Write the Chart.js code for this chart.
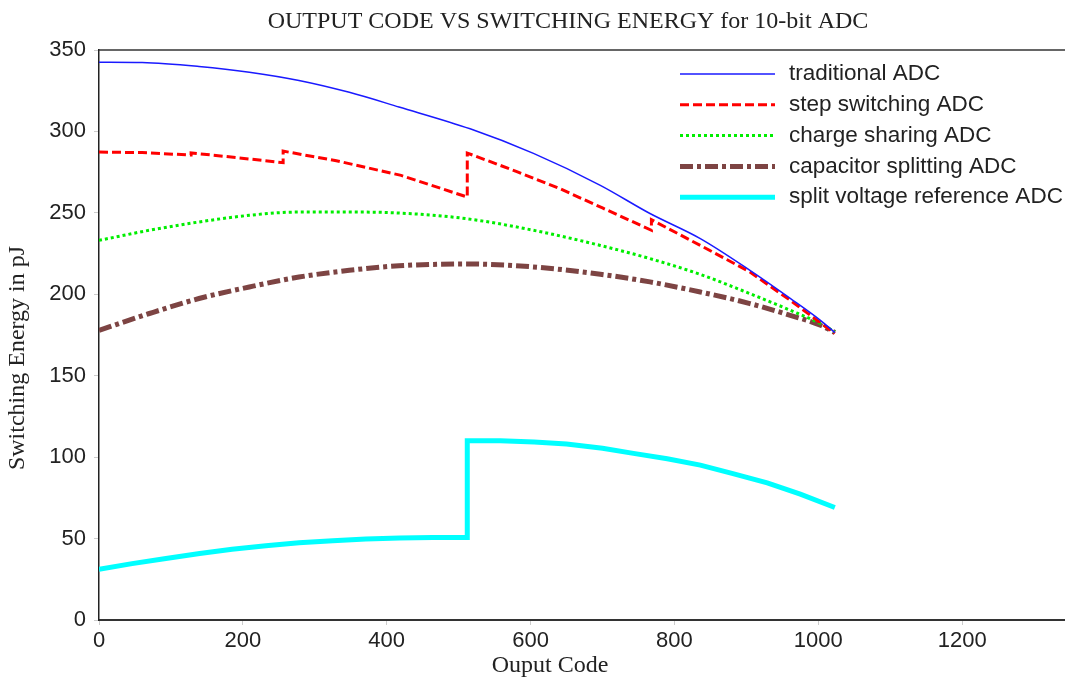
<!DOCTYPE html>
<html>
<head>
<meta charset="utf-8">
<script src="https://cdn.jsdelivr.net/npm/chart.js@4"></script>
<style>
  html, body { margin: 0; padding: 0; background: #fff; }
  #wrap { width: 1065px; height: 679px; }
</style>
</head>
<body>
<div id="wrap"><canvas id="chart"></canvas></div>
<script>
// values
const tradCodes = [0, 60, 139, 209, 278, 348, 417, 516, 604, 697, 766, 836, 905, 961, 1003, 1023];
const tradVals  = [342.5, 342.3, 339.9, 336.4, 331.3, 324, 315, 301.6, 286.5, 266.9, 249.6, 234.2, 214.7, 197.5, 184, 176.5];

const stepCodes = [0, 60, 128, 128, 190, 256, 256, 330, 420, 512, 512, 580, 641, 700, 768, 768, 836, 905, 961, 1023];
const stepVals  = [287.3, 287, 285.5, 286.8, 284, 280.8, 287.9, 282, 273, 259.7, 286.7, 275.5, 264.8, 253, 239.3, 245.8, 230, 213.7, 196.3, 176];

const shareCodes = [0, 70, 139, 209, 278, 348, 417, 511, 604, 697, 766, 836, 905, 961, 1003, 1023];
const shareVals  = [233.1, 239.3, 244.4, 248.5, 250.5, 250.5, 249.9, 246.4, 239.3, 230, 221.9, 212.2, 200.4, 190.2, 182, 177];

const splitCodes = [0, 70, 139, 209, 278, 348, 417, 511, 604, 697, 766, 836, 905, 961, 1003, 1023];
const splitVals  = [177.9, 188.2, 197.4, 204.5, 210.6, 214.7, 217.5, 218.6, 216.8, 212.3, 207.6, 201.4, 194.3, 187.1, 181, 176.5];

const vrefCodes = [0, 46, 93, 140, 185, 232, 278, 325, 371, 418, 464, 512, 512, 558, 605, 650, 700, 743, 790, 836, 880, 929, 975, 1023];
const vrefVals  = [31.1, 34.6, 37.8, 40.8, 43.4, 45.6, 47.4, 48.7, 49.7, 50.3, 50.7, 50.7, 110, 110, 109.3, 108, 105.5, 102.3, 99, 95.1, 90, 84.2, 77.3, 69.1];

const seriesNames = ["traditional ADC", "step switching ADC", "charge sharing ADC", "capacitor splitting ADC", "split voltage reference ADC"];
const xTickValues = [0, 200, 400, 600, 800, 1000, 1200];

function pts(xs, ys) {
  return xs.map((x, i) => ({ x: x, y: ys[i] }));
}

// frame line, titles and the legend inside the plot
const extras = {
  id: "extras",
  afterDraw(chart) {
    const ctx = chart.ctx;
    const a = chart.chartArea;
    ctx.save();
    ctx.strokeStyle = "#333";
    ctx.lineWidth = 1.5;
    ctx.beginPath();
    ctx.moveTo(a.left, a.top);
    ctx.lineTo(a.right, a.top);
    ctx.stroke();

    ctx.fillStyle = "#222";
    ctx.textAlign = "center";
    ctx.textBaseline = "middle";
    ctx.font = "24px 'Liberation Serif'";
    ctx.fillText("OUTPUT CODE VS SWITCHING ENERGY for 10-bit ADC", 568, 22);
    ctx.fillText("Ouput Code", 550, 666);

    ctx.save();
    ctx.translate(18, 358);
    ctx.rotate(-Math.PI / 2);
    ctx.fillText("Switching Energy in pJ", 0, 0);
    ctx.restore();

    ctx.textAlign = "left";
    ctx.font = "22.5px 'Liberation Sans'";
    chart.data.datasets.forEach((ds, i) => {
      const y = 74 + i * 30.8;
      ctx.strokeStyle = ds.borderColor;
      ctx.lineWidth = ds.borderWidth;
      ctx.setLineDash(ds.borderDash || []);
      ctx.beginPath();
      ctx.moveTo(680, y);
      ctx.lineTo(775, y);
      ctx.stroke();
      ctx.setLineDash([]);
      ctx.fillStyle = "#222";
      ctx.fillText(ds.label, 789, y);
    });
    ctx.restore();
  }
};

new Chart(document.getElementById("chart"), {
  type: "line",
  data: {
    datasets: [
      {
        label: seriesNames[0],
        data: pts(tradCodes, tradVals),
        borderColor: "#1a1aff",
        borderWidth: 1.5,
        cubicInterpolationMode: "monotone",
      },
      {
        label: seriesNames[1],
        data: pts(stepCodes, stepVals),
        borderColor: "#ff0000",
        borderWidth: 3,
        borderDash: [9, 4],
      },
      {
        label: seriesNames[2],
        data: pts(shareCodes, shareVals),
        borderColor: "#00ee00",
        borderWidth: 3,
        borderDash: [3, 3],
        cubicInterpolationMode: "monotone",
      },
      {
        label: seriesNames[3],
        data: pts(splitCodes, splitVals),
        borderColor: "#7d4443",
        borderWidth: 5,
        borderDash: [13, 4, 4, 4],
        cubicInterpolationMode: "monotone",
      },
      {
        label: seriesNames[4],
        data: pts(vrefCodes, vrefVals),
        borderColor: "#00ffff",
        borderWidth: 5,
      },
    ],
  },
  options: {
    responsive: true,
    maintainAspectRatio: false,
    animation: false,
    layout: { padding: { top: 50, left: 0, right: 0, bottom: 0 } },
    elements: { point: { radius: 0 } },
    plugins: {
      legend: { display: false },
      title: { display: false },
      tooltip: { enabled: false },
    },
    scales: {
      x: {
        type: "linear",
        min: 0,
        max: 1343,
        afterBuildTicks(axis) {
          axis.ticks = xTickValues.map(v => ({ value: v }));
        },
        afterFit(axis) { axis.height = 59; },
        ticks: {
          color: "#222",
          font: { family: "Liberation Sans", size: 22 },
          padding: 3,
          maxRotation: 0,
          callback: v => String(v),
        },
        grid: { drawOnChartArea: false, color: "#ccc", tickLength: 5 },
        border: { color: "#333", width: 2 },
      },
      y: {
        min: 0,
        max: 350,
        ticks: {
          stepSize: 50,
          color: "#222",
          font: { family: "Liberation Sans", size: 22 },
          padding: 8,
        },
        afterFit(axis) { axis.width = 99; },
        grid: { drawOnChartArea: false, color: "#ccc", tickLength: 5 },
        border: { color: "#222", width: 1.5 },
      },
    },
  },
  plugins: [extras],
});
</script>
</body>
</html>
